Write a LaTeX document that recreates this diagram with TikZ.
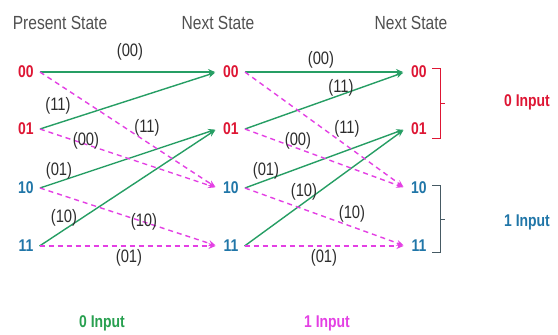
\documentclass[tikz,border=0pt]{standalone}
\usepackage{fontspec}
\setmainfont{Liberation Sans}
\usepackage{graphicx}
\usetikzlibrary{arrows.meta}
\definecolor{stred}{RGB}{222,22,52}
\definecolor{stblue}{RGB}{32,118,168}
\definecolor{stgreen}{RGB}{38,158,100}
\definecolor{stmag}{RGB}{228,64,228}
\definecolor{lblgray}{RGB}{45,45,45}
\definecolor{hdgray}{RGB}{80,80,80}
\definecolor{ingreen}{RGB}{40,160,80}
\definecolor{brkblue}{RGB}{70,90,100}
\newcommand{\narrow}[1]{\scalebox{0.82}[1]{#1}}
\tikzset{
  statelbl/.style={inner xsep=6pt, inner ysep=2pt, font=\fontsize{17}{19}\selectfont\bfseries},
  zerorow/.style={statelbl, text=stred},
  onerow/.style={statelbl, text=stblue},
  edgelbl/.style={inner sep=0pt, text=lblgray, font=\fontsize{18}{20}\selectfont},
  header/.style={inner sep=0pt, text=hdgray, font=\fontsize{19}{21}\selectfont},
  inlbl/.style={inner sep=0pt, font=\fontsize{17}{19}\selectfont\bfseries},
  zerotrans/.style={draw=stgreen, line width=1.4pt, shorten >=2pt, -{Stealth[length=7pt,width=6pt]}},
  onetrans/.style={draw=stmag, line width=1.4pt, dash pattern=on 5pt off 4pt, shorten >=2pt, -{Stealth[length=7pt,width=6pt]}},
  brk/.style={line width=0.8pt}
}
\begin{document}
\begin{tikzpicture}[x=1pt,y=-1pt]
\useasboundingbox[fill=white] (0,0) rectangle (558,335);
% headers
\node[header] (h1) at (60,23) {\narrow{Present State}};
\node[header] (h2) at (218,23) {\narrow{Next State}};
\node[header] (h3) at (411,23) {\narrow{Next State}};
% states
\foreach \c/\x in {a/26,b/231,c/419}{
  \node[zerorow] (\c00) at (\x,72) {\narrow{00}};
  \node[zerorow] (\c01) at (\x,129) {\narrow{01}};
  \node[onerow] (\c10) at (\x,188) {\narrow{10}};
  \node[onerow] (\c11) at (\x,246) {\narrow{11}};
}
% transitions
\foreach \p/\q in {a/b,b/c}{
  \draw[zerotrans] (\p00.east) -- (\q00.west);
  \draw[zerotrans] (\p01.east) -- (\q00.west);
  \draw[zerotrans] (\p10.east) -- (\q01.west);
  \draw[zerotrans] (\p11.east) -- (\q01.west);
  \draw[onetrans] (\p00.east) -- (\q10.west);
  \draw[onetrans] (\p01.east) -- (\q10.west);
  \draw[onetrans] (\p10.east) -- (\q11.west);
  \draw[onetrans] (\p11.east) -- (\q11.west);
}
% edge labels, first stage
\node[edgelbl] (l1) at (130,52) {\narrow{(00)}};
\node[edgelbl] (l2) at (58,106) {\narrow{(11)}};
\node[edgelbl] (l3) at (147,128) {\narrow{(11)}};
\node[edgelbl] (l4) at (86,141) {\narrow{(00)}};
\node[edgelbl] (l5) at (59,171) {\narrow{(01)}};
\node[edgelbl] (l6) at (64,218) {\narrow{(10)}};
\node[edgelbl] (l7) at (144,222) {\narrow{(10)}};
\node[edgelbl] (l8) at (129,258) {\narrow{(01)}};
% edge labels, second stage
\node[edgelbl] (m1) at (321,60) {\narrow{(00)}};
\node[edgelbl] (m2) at (341,88) {\narrow{(11)}};
\node[edgelbl] (m3) at (347,129) {\narrow{(11)}};
\node[edgelbl] (m4) at (298,141) {\narrow{(00)}};
\node[edgelbl] (m5) at (266,171) {\narrow{(01)}};
\node[edgelbl] (m6) at (304,192) {\narrow{(10)}};
\node[edgelbl] (m7) at (352,214) {\narrow{(10)}};
\node[edgelbl] (m8) at (324,258) {\narrow{(01)}};
% brackets
\draw[brk, draw=stred] (432,68) -- (440,68) -- (440,138) -- (432,138);
\draw[brk, draw=stred] (440,103) -- (445,103);
\draw[brk, draw=brkblue] (432,185) -- (440,185) -- (440,252) -- (432,252);
\draw[brk, draw=brkblue] (440,219) -- (445,219);
% input labels
\node[inlbl, text=stred] (r0) at (527,102) {\narrow{0 Input}};
\node[inlbl, text=stblue] (r1) at (527,222) {\narrow{1 Input}};
\node[inlbl, text=ingreen] (b0) at (102,323) {\narrow{0 Input}};
\node[inlbl, text=stmag] (b1) at (327,323) {\narrow{1 Input}};
\end{tikzpicture}
\end{document}
